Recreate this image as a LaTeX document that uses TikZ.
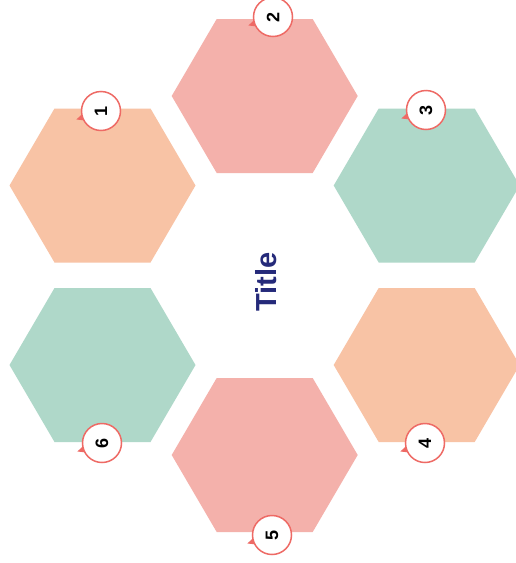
\documentclass[tikz,border=0pt]{standalone}
\usepackage{fontspec}
\setmainfont{Liberation Sans}
\usetikzlibrary{calc}
\definecolor{peach}{HTML}{F8C3A5}
\definecolor{pinkc}{HTML}{F4B1AB}
\definecolor{tealc}{HTML}{AFD8C9}
\definecolor{badgered}{HTML}{EE6A65}
\definecolor{navyc}{HTML}{252A7A}
\tikzset{
  badge/.style={circle, draw=badgered, line width=1.5pt, fill=white, minimum size=39pt, inner sep=0pt,
    font=\bfseries\fontsize{18}{18}\selectfont, text=black, rotate=90},
  titletext/.style={font=\bfseries\fontsize{29}{29}\selectfont, text=navyc, rotate=90}
}
\begin{document}
\begin{tikzpicture}[x=1pt,y=-1pt]
\useasboundingbox (0,0) rectangle (516,563);
\clip (0,0) rectangle (516,563);
\fill[white] (0,0) rectangle (516,563);
% hexagons
\foreach \n/\cx/\cy/\col in {1/102.5/185.5/peach, 2/264.7/96/pinkc, 3/426.7/185.5/tealc,
                             4/426.7/365/peach, 5/264.7/455/pinkc, 6/102.5/365/tealc}{
  \coordinate (h\n) at (\cx,\cy);
  \fill[\col] ($(h\n)+(-93,0)$) -- ($(h\n)+(-48,-77)$) -- ($(h\n)+(48,-77)$) -- ($(h\n)+(93,0)$)
     -- ($(h\n)+(48,77)$) -- ($(h\n)+(-48,77)$) -- cycle;
}
% badges
\foreach \n/\bx/\by in {1/101/111, 2/273/17, 3/426/110, 4/425/443, 5/272/535, 6/102/443}{
  \coordinate (bc\n) at (\bx,\by);
  \fill[badgered] ($(bc\n)+(149:18.5)$) -- ($(bc\n)+(161:26)$) -- ($(bc\n)+(172:18.5)$) -- cycle;
  \node[badge] (b\n) at (bc\n) {\n};
}
\node[titletext] (title) at (266,282) {Title};
\end{tikzpicture}
\end{document}
